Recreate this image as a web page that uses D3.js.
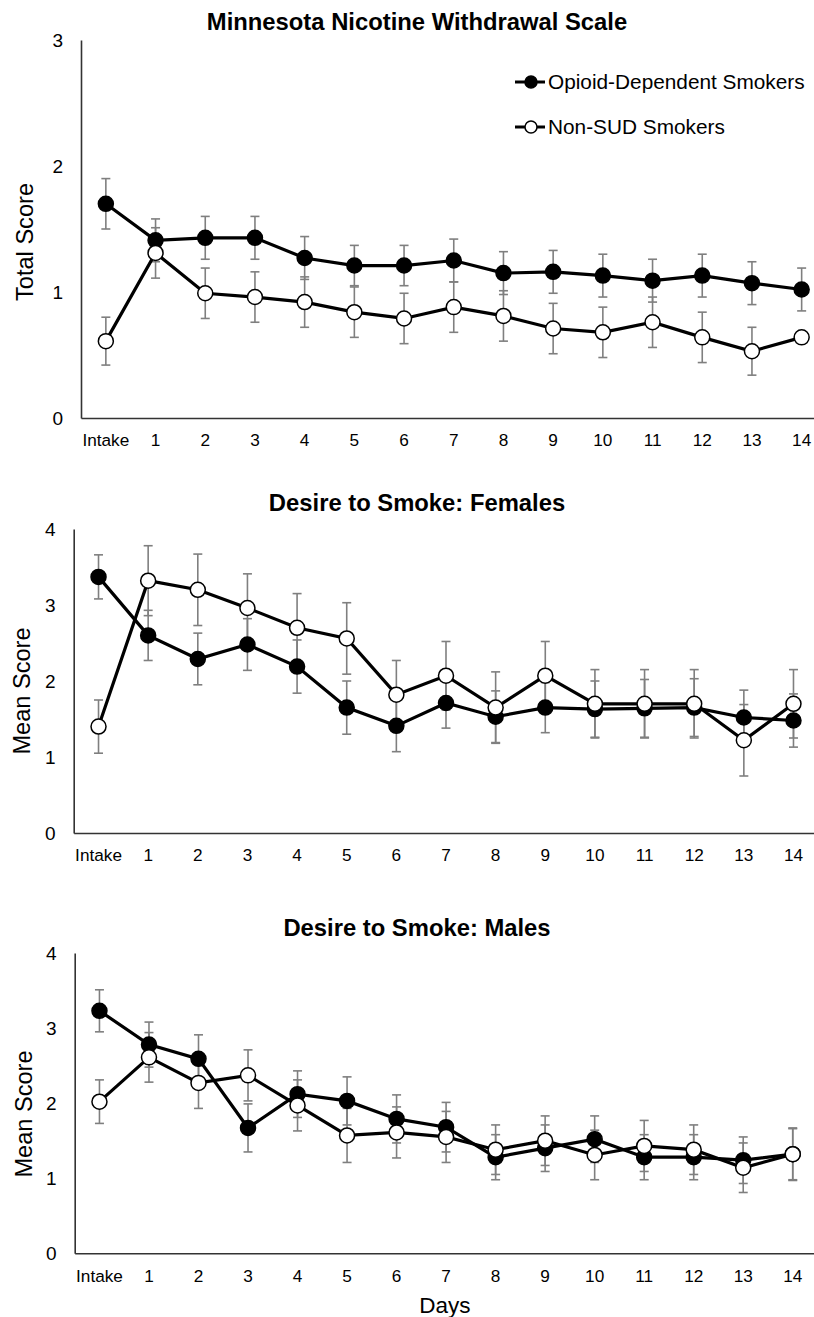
<!DOCTYPE html>
<meta charset="utf-8">
<style>
  body { margin: 0; background: #fff; }
  svg { display: block; font-family: "Liberation Sans", Arial, sans-serif; }
  .axis .domain { stroke: #333; stroke-width: 1.6; }
  .axis text { fill: #000; }
</style>
<div id="chart"></div>
<script src="https://cdn.jsdelivr.net/npm/d3@7/dist/d3.min.js"></script>
<script>

// categories
var days = ["Intake", "1", "2", "3", "4", "5", "6", "7", "8", "9", "10", "11", "12", "13", "14"];
var seriesNames = ["Opioid-Dependent Smokers", "Non-SUD Smokers"];

// Minnesota Nicotine Withdrawal Scale (total score)
var mnwsOpioid    = [1.70, 1.41, 1.43, 1.43, 1.27, 1.21, 1.21, 1.25, 1.15, 1.16, 1.13, 1.09, 1.13, 1.07, 1.02];
var mnwsOpioidSE  = [0.20, 0.17, 0.17, 0.17, 0.17, 0.16, 0.16, 0.17, 0.17, 0.17, 0.17, 0.17, 0.17, 0.17, 0.17];
var mnwsNonSud    = [0.61, 1.31, 0.99, 0.96, 0.92, 0.84, 0.79, 0.88, 0.81, 0.71, 0.68, 0.76, 0.64, 0.53, 0.64];
var mnwsNonSudSE  = [0.19, 0.20, 0.20, 0.20, 0.20, 0.20, 0.20, 0.20, 0.20, 0.20, 0.20, 0.20, 0.20, 0.19, 0.00];

// Desire to smoke: females
var femOpioid     = [3.37, 2.60, 2.29, 2.48, 2.19, 1.65, 1.41, 1.71, 1.53, 1.65, 1.63, 1.64, 1.65, 1.52, 1.48];
var femOpioidSE   = [0.29, 0.33, 0.34, 0.34, 0.35, 0.35, 0.34, 0.33, 0.34, 0.33, 0.37, 0.38, 0.38, 0.36, 0.35];
var femNonSud     = [1.40, 3.32, 3.20, 2.96, 2.70, 2.56, 1.82, 2.07, 1.65, 2.07, 1.70, 1.70, 1.70, 1.22, 1.70];
var femNonSudSE   = [0.35, 0.46, 0.47, 0.45, 0.45, 0.47, 0.45, 0.45, 0.47, 0.45, 0.45, 0.45, 0.45, 0.47, 0.45];

// Desire to smoke: males
var maleOpioid    = [3.23, 2.78, 2.59, 1.67, 2.12, 2.03, 1.79, 1.68, 1.28, 1.40, 1.52, 1.28, 1.28, 1.24, 1.32];
var maleOpioidSE  = [0.28, 0.30, 0.32, 0.32, 0.31, 0.32, 0.32, 0.33, 0.30, 0.31, 0.31, 0.30, 0.30, 0.31, 0.35];
var maleNonSud    = [2.02, 2.61, 2.27, 2.37, 1.97, 1.57, 1.61, 1.55, 1.38, 1.50, 1.31, 1.43, 1.38, 1.14, 1.32];
var maleNonSudSE  = [0.29, 0.33, 0.34, 0.34, 0.34, 0.36, 0.34, 0.34, 0.33, 0.33, 0.33, 0.34, 0.33, 0.33, 0.34];

var W = 814, H = 1317;

var svg = d3.select("#chart").append("svg")
    .attr("width", W)
    .attr("height", H);

makePanel({
  title: "Minnesota Nicotine Withdrawal Scale", titleY: 22,
  yLabel: "Total Score", yLabelX: 25, yLabelY: 242, yTicks: [0, 1, 2, 3], yMax: 3,
  left: 81, top: 40, bottom: 418, step: 49.7,
  series: [[mnwsOpioid, mnwsOpioidSE], [mnwsNonSud, mnwsNonSudSE]],
  legend: true
});

makePanel({
  title: "Desire to Smoke: Females", titleY: 503,
  yLabel: "Mean Score", yLabelX: 22, yLabelY: 691, yTicks: [0, 1, 2, 3, 4], yMax: 4,
  left: 73.7, top: 529, bottom: 833, step: 49.64,
  series: [[femOpioid, femOpioidSE], [femNonSud, femNonSudSE]]
});

makePanel({
  title: "Desire to Smoke: Males", titleY: 928,
  yLabel: "Mean Score", yLabelX: 24, yLabelY: 1114, yTicks: [0, 1, 2, 3, 4], yMax: 4,
  left: 74.7, top: 953, bottom: 1253.3, step: 49.52,
  series: [[maleOpioid, maleOpioidSE], [maleNonSud, maleNonSudSE]],
  xLabel: "Days"
});


function makePanel(cfg) {

  var g = svg.append("g");

  var x = d3.scaleBand()
      .domain(days)
      .range([cfg.left, cfg.left + cfg.step * days.length]);

  var y = d3.scaleLinear()
      .domain([0, cfg.yMax])
      .range([cfg.bottom, cfg.top]);

  var cx = function(i) { return x(days[i]) + x.bandwidth() / 2; };

  // title
  g.append("text")
      .attr("x", 417)
      .attr("y", cfg.titleY)
      .attr("dy", "0.35em")
      .attr("text-anchor", "middle")
      .attr("font-size", 23.8)
      .attr("font-weight", "bold")
      .text(cfg.title);

  // axes
  g.append("g")
      .attr("class", "axis")
      .attr("transform", "translate(0," + cfg.bottom + ")")
      .call(d3.axisBottom(x).tickSize(0).tickPadding(16))
      .call(function(a) { a.selectAll("text").attr("font-size", 17.2).attr("font-family", null); });

  g.append("g")
      .attr("class", "axis")
      .attr("transform", "translate(" + cfg.left + ",0)")
      .call(d3.axisLeft(y).tickValues(cfg.yTicks).tickFormat(d3.format("d")).tickSize(0).tickPadding(18))
      .call(function(a) { a.selectAll("text").attr("font-size", 19).attr("font-family", null); });

  // y label
  g.append("text")
      .attr("transform", "translate(" + cfg.yLabelX + "," + cfg.yLabelY + ") rotate(-90)")
      .attr("text-anchor", "middle")
      .attr("dy", "0.35em")
      .attr("font-size", 23.6)
      .text(cfg.yLabel);

  if (cfg.xLabel) {
    g.append("text")
        .attr("x", 445)
        .attr("y", 1305)
        .attr("dy", "0.35em")
        .attr("text-anchor", "middle")
        .attr("font-size", 22.5)
        .text(cfg.xLabel);
  }

  // error bars
  cfg.series.forEach(function(s) {
    var vals = s[0], se = s[1];
    var eb = g.append("g").attr("stroke", "#7f7f7f").attr("stroke-width", 1.6).attr("fill", "none");
    vals.forEach(function(v, i) {
      if (!se[i]) return;
      var x0 = cx(i), y1 = y(v + se[i]), y2 = y(v - se[i]);
      eb.append("line").attr("x1", x0).attr("x2", x0).attr("y1", y1).attr("y2", y2);
      eb.append("line").attr("x1", x0 - 4.5).attr("x2", x0 + 4.5).attr("y1", y1).attr("y2", y1);
      eb.append("line").attr("x1", x0 - 4.5).attr("x2", x0 + 4.5).attr("y1", y2).attr("y2", y2);
    });
  });

  // lines + markers
  var line = d3.line()
      .x(function(d, i) { return cx(i); })
      .y(function(d) { return y(d); });

  cfg.series.forEach(function(s, k) {
    g.append("path")
        .datum(s[0])
        .attr("d", line)
        .attr("fill", "none")
        .attr("stroke", "#000")
        .attr("stroke-width", 3.2);

    g.append("g").selectAll("circle")
        .data(s[0])
        .enter().append("circle")
          .attr("cx", function(d, i) { return cx(i); })
          .attr("cy", function(d) { return y(d); })
          .attr("r", 7.5)
          .attr("fill", k === 0 ? "#000" : "#fff")
          .attr("stroke", "#000")
          .attr("stroke-width", 1.5);
  });

  // legend
  if (cfg.legend) {
    var leg = g.append("g");
    seriesNames.forEach(function(name, k) {
      var ly = 82 + k * 45;
      leg.append("line")
          .attr("x1", 515).attr("x2", 545)
          .attr("y1", ly).attr("y2", ly)
          .attr("stroke", "#000").attr("stroke-width", 3);
      leg.append("circle")
          .attr("cx", 531).attr("cy", ly).attr("r", 6)
          .attr("fill", k === 0 ? "#000" : "#fff")
          .attr("stroke", "#000").attr("stroke-width", 1.5);
      leg.append("text")
          .attr("x", 548).attr("y", ly)
          .attr("dy", "0.35em")
          .attr("font-size", 20.8)
          .text(name);
    });
  }
}

</script>
